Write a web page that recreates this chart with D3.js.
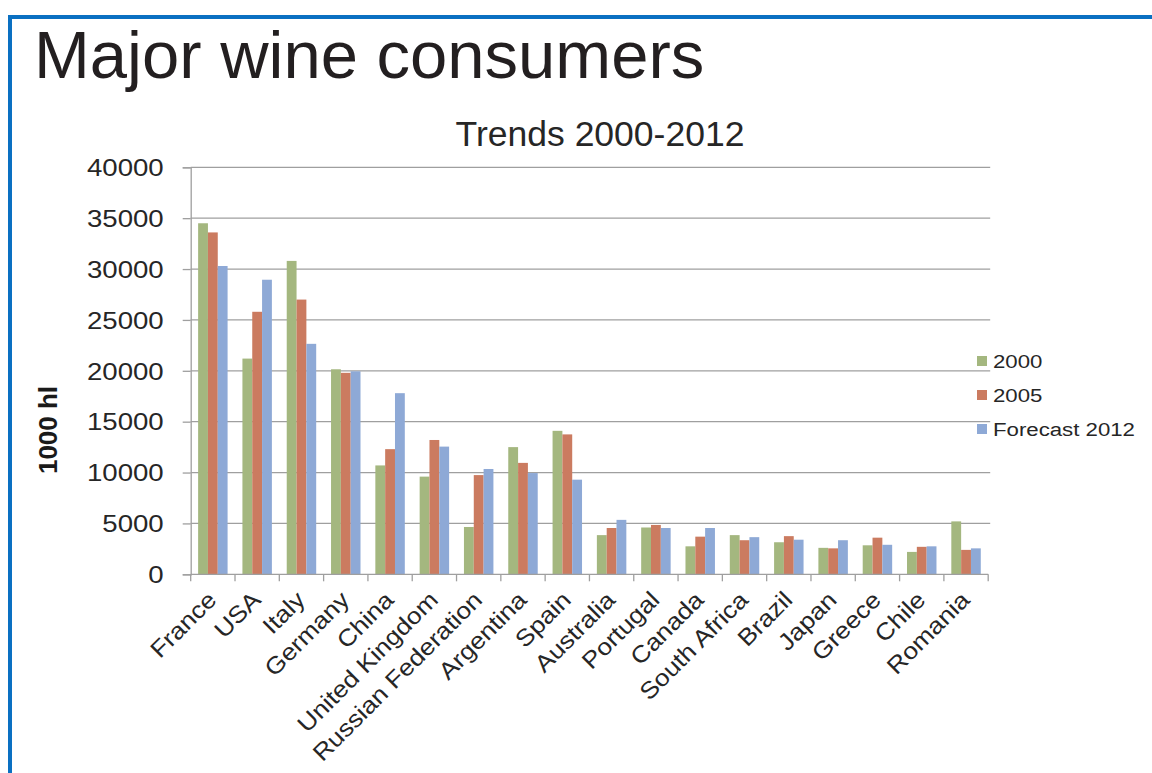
<!DOCTYPE html>
<html>
<head>
<meta charset="utf-8">
<script src="https://cdn.jsdelivr.net/npm/d3@7"></script>
<style>
  html, body { margin: 0; padding: 0; background: #fff; }
  svg { display: block; font-family: "Liberation Sans", Arial, sans-serif; }
</style>
</head>
<body>
<svg id="chart" width="1152" height="773"></svg>
<script>
// Wine consumption by country, thousand hectolitres
const categories = ["France", "USA", "Italy", "Germany", "China", "United Kingdom",
  "Russian Federation", "Argentina", "Spain", "Australia", "Portugal", "Canada",
  "South Africa", "Brazil", "Japan", "Greece", "Chile", "Romania"];
const seriesNames = ["2000", "2005", "Forecast 2012"];
const values2000 = [34500, 21200, 30800, 20150, 10700, 9600, 4650, 12500, 14100, 3850,
  4600, 2750, 3850, 3150, 2600, 2850, 2200, 5200];
const values2005 = [33600, 25800, 27000, 19800, 12300, 13200, 9750, 10950, 13750, 4550,
  4850, 3700, 3350, 3750, 2550, 3600, 2700, 2400];
const values2012 = [30300, 28950, 22650, 19950, 17800, 12550, 10350, 9950, 9300, 5350,
  4550, 4550, 3650, 3400, 3350, 2900, 2750, 2550];
const yTicks = [0, 5000, 10000, 15000, 20000, 25000, 30000, 35000, 40000];

const seriesValues = [values2000, values2005, values2012];
const colors = ["#a4b77f", "#cb7b60", "#8ea9d6"];
const textColor = "#262626";
const gridColor = "#9f9f9f";

const svg = d3.select("#chart");

// slide frame
svg.append("rect").attr("x", 8).attr("y", 15).attr("width", 1144).attr("height", 4).attr("fill", "#0a70c2");
svg.append("rect").attr("x", 8).attr("y", 15).attr("width", 4).attr("height", 758).attr("fill", "#0a70c2");

// headings
svg.append("text").attr("x", 34).attr("y", 78)
  .attr("font-size", 67).attr("fill", "#231f20")
  .text("Major wine consumers");
svg.append("text").attr("x", 600).attr("y", 146)
  .attr("text-anchor", "middle").attr("font-size", 35.5).attr("fill", textColor)
  .text("Trends 2000-2012");

// plot area and scales
const plotLeft = 190.7, plotRight = 988.2, plotTop = 167.3, plotBottom = 574.3;
const x = d3.scaleBand().domain(categories).range([plotLeft, plotRight]).paddingInner(0).paddingOuter(0);
const groupFrac = 0.665;
const x1 = d3.scaleBand().domain(seriesNames)
  .range([(1 - groupFrac) / 2 * x.bandwidth(), (1 + groupFrac) / 2 * x.bandwidth()]);
const y = d3.scaleLinear().domain([0, 40000]).range([plotBottom, plotTop]);

// horizontal gridlines
svg.append("g").selectAll("line").data(yTicks.filter(d => d > 0)).join("line")
  .attr("x1", plotLeft).attr("x2", plotRight + 2)
  .attr("y1", d => y(d)).attr("y2", d => y(d))
  .attr("stroke", gridColor).attr("stroke-width", 1.3);

// y axis
const yAxis = svg.append("g").attr("transform", `translate(${plotLeft},0)`)
  .call(d3.axisLeft(y).tickValues(yTicks).tickSize(8).tickPadding(14).tickFormat(d3.format("d")));
yAxis.select(".domain").attr("stroke", gridColor).attr("stroke-width", 1.3);
yAxis.selectAll(".tick line").attr("stroke", gridColor).attr("stroke-width", 1.3);
yAxis.selectAll(".tick text")
  .attr("font-size", 23).attr("fill", textColor)
  .attr("font-family", "'Liberation Sans', Arial, sans-serif")
  .attr("dy", "0.36em")
  .attr("x", null)
  .attr("transform", "translate(-27,0) scale(1.2,1)");

// y axis title
svg.append("text")
  .attr("transform", "translate(57,430) rotate(-90)")
  .attr("text-anchor", "middle").attr("font-size", 26).attr("font-weight", "bold")
  .attr("fill", "#1a1a1a")
  .text("1000 hl");

// bars
const groups = svg.append("g").selectAll("g").data(categories).join("g")
  .attr("transform", d => `translate(${x(d)},0)`);
groups.selectAll("rect")
  .data((c, i) => seriesNames.map((s, k) => ({ s, k, v: seriesValues[k][i] })))
  .join("rect")
  .attr("x", d => x1(d.s))
  .attr("width", x1.bandwidth())
  .attr("y", d => y(d.v))
  .attr("height", d => y(0) - y(d.v))
  .attr("fill", d => colors[d.k]);

// x axis with category boundary ticks
const boundaries = categories.map(c => x(c)).concat([plotRight]);
svg.append("line").attr("x1", plotLeft).attr("x2", plotRight).attr("y1", plotBottom).attr("y2", plotBottom)
  .attr("stroke", gridColor).attr("stroke-width", 1.3);
svg.append("g").selectAll("line").data(boundaries).join("line")
  .attr("x1", d => d).attr("x2", d => d).attr("y1", plotBottom).attr("y2", plotBottom + 7)
  .attr("stroke", gridColor).attr("stroke-width", 1.3);

// category labels, slanted
svg.append("g").selectAll("text").data(categories).join("text")
  .attr("transform", d => `translate(${x(d) + x.bandwidth() / 2 + 5},${plotBottom + 27}) rotate(-45) scale(1.12,1)`)
  .attr("text-anchor", "end")
  .attr("font-size", 23.5).attr("fill", textColor)
  .text(d => d);

// legend
const legend = svg.append("g").selectAll("g").data(seriesNames).join("g")
  .attr("transform", (d, i) => `translate(977,${356 + i * 34})`);
legend.append("rect").attr("width", 10).attr("height", 10).attr("fill", (d, i) => colors[i]);
legend.append("text").attr("x", 16).attr("y", 12)
  .attr("font-size", 19).attr("fill", textColor)
  .attr("transform", "translate(16,0) scale(1.17,1) translate(-16,0)")
  .text(d => d);
</script>
</body>
</html>
